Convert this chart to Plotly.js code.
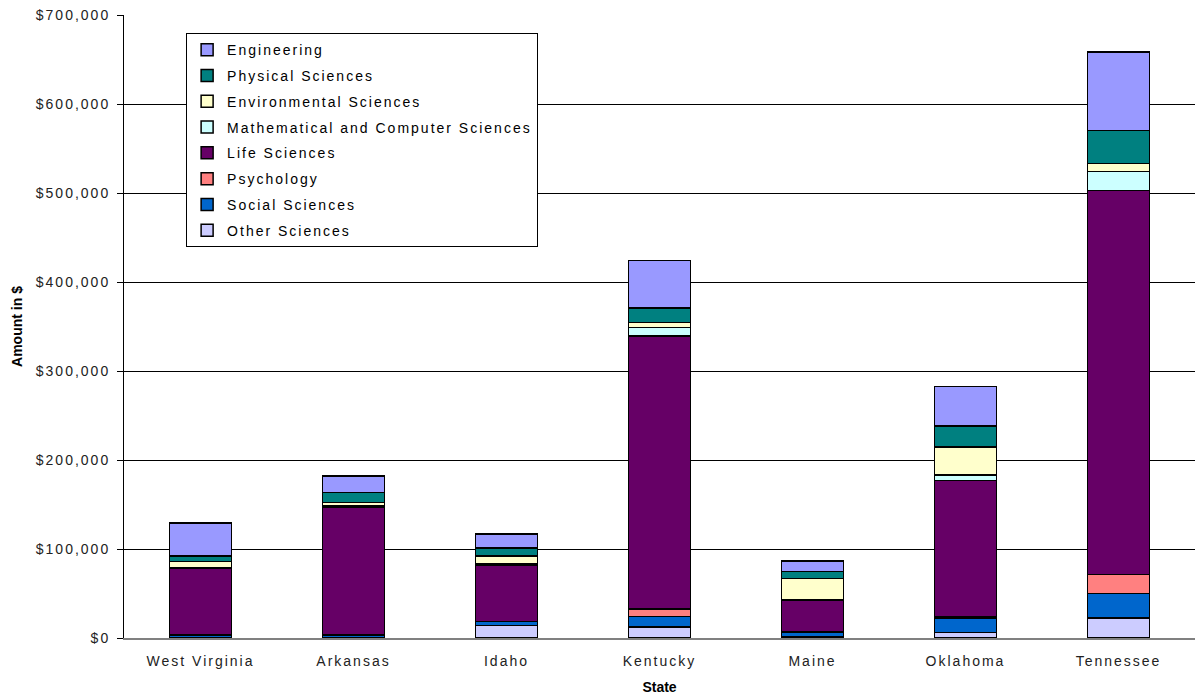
<!DOCTYPE html>
<html>
<head>
<meta charset="utf-8">
<script src="https://cdn.plot.ly/plotly-3.0.1.min.js"></script>
<style>
html,body{margin:0;padding:0;background:#fff;}
#chart{width:1196px;height:698px;}
#chart .xtick text, #chart .ytick text{letter-spacing:2px;}
.legendtext{letter-spacing:2px;}
</style>
</head>
<body>
<div id="chart"></div>
<script>
const states = ["West Virginia", "Arkansas", "Idaho", "Kentucky", "Maine", "Oklahoma", "Tennessee"];
const otherSciences = [500, 500, 14300, 12400, 1000, 6400, 22500];
const socialSciences = [3000, 3000, 4000, 11600, 5000, 15700, 27300];
const psychology = [500, 500, 500, 8600, 1000, 1500, 21300];
const lifeSciences = [74000, 143000, 63000, 307000, 35000, 153600, 431800];
const mathComputer = [1000, 1500, 1500, 9300, 1000, 6000, 21000];
const environmental = [7000, 4000, 8600, 5600, 24000, 31500, 9400];
const physical = [6000, 11200, 9000, 16200, 7500, 23600, 36700];
const engineering = [37500, 18300, 15700, 53500, 11900, 44200, 88400];

const seriesNames = ["Other Sciences", "Social Sciences", "Psychology", "Life Sciences",
  "Mathematical and Computer Sciences", "Environmental Sciences", "Physical Sciences", "Engineering"];
const seriesValues = [otherSciences, socialSciences, psychology, lifeSciences,
  mathComputer, environmental, physical, engineering];
const seriesColors = ["#CCCCFF", "#0066CC", "#FF8080", "#660066", "#CCFFFF", "#FFFFCC", "#008080", "#9999FF"];

const traces = seriesNames.map((n, i) => ({
  type: "bar",
  name: n,
  legendgroup: "g" + i,
  legendrank: 1000 - i,
  x: states,
  y: seriesValues[i],
  marker: {color: seriesColors[i], line: {color: "#000000", width: 1.5}},
  hoverinfo: "x+y+name"
}));

const layout = {
  width: 1196, height: 698,
  margin: {l: 124, r: 1, t: 15, b: 60},
  barmode: "stack",
  bargap: 0.595,
  paper_bgcolor: "#ffffff",
  plot_bgcolor: "#ffffff",
  font: {family: "Liberation Sans, Arial, sans-serif", color: "#000000"},
  xaxis: {
    type: "category",
    showline: true, linecolor: "#808080", linewidth: 1.5,
    ticks: "",
    ticklabelstandoff: 10,
    tickfont: {size: 14, color: "#222222"},
    title: {text: "State", font: {size: 14, color: "#000000", weight: "bold"}, standoff: 14},
    mirror: false
  },
  yaxis: {
    range: [0, 700000],
    dtick: 100000,
    tickprefix: "$",
    tickformat: ",d",
    showline: true, linecolor: "#000000", linewidth: 1,
    ticks: "outside", ticklen: 6, tickcolor: "#000000",
    ticklabelstandoff: 4,
    showgrid: true, gridcolor: "#000000", gridwidth: 1,
    zeroline: false,
    tickfont: {size: 14, color: "#222222"},
    title: {text: "Amount in $", font: {size: 14, color: "#000000", weight: "bold"}, standoff: 25}
  },
  showlegend: true,
  legend: {
    x: 0.058, y: 0.971, xanchor: "left", yanchor: "top",
    traceorder: "grouped",
    tracegroupgap: 4.6,
    bgcolor: "#ffffff",
    bordercolor: "#000000", borderwidth: 1,
    font: {size: 14, color: "#000000"},
    itemwidth: 30
  }
};

Plotly.newPlot("chart", traces, layout, {displayModeBar: false, staticPlot: true});
</script>
</body>
</html>
